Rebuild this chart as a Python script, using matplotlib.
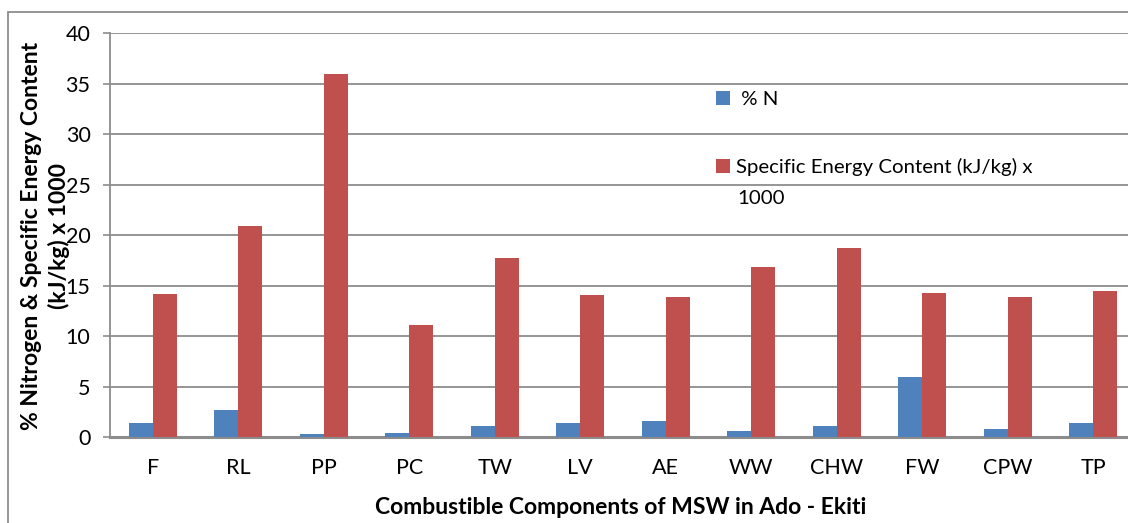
import numpy as np
import matplotlib
matplotlib.use("Agg")
import matplotlib.pyplot as plt
from matplotlib.patches import Rectangle

plt.rcParams['font.family'] = ['Lato', 'DejaVu Sans']

# data
components = ['F', 'RL', 'PP', 'PC', 'TW', 'LV', 'AE', 'WW', 'CHW', 'FW', 'CPW', 'TP']
nitrogen_pct = [1.36, 2.66, 0.33, 0.40, 1.10, 1.40, 1.56, 0.63, 1.10, 5.90, 0.83, 1.40]
energy_content = [14.2, 20.9, 35.9, 11.1, 17.7, 14.1, 13.9, 16.8, 18.7, 14.3, 13.9, 14.5]

blue = '#4F81BD'
red = '#C0504D'
grid_grey = '#8C8C8C'

fig = plt.figure(figsize=(11.28, 5.23), dpi=100)
ax = fig.add_axes([0.0975, 0.1644, 0.9025, 0.7725])

x = np.arange(len(components))
w = 0.28
ax.bar(x - w / 2, nitrogen_pct, width=w, color=blue, label=' % N', zorder=3)
ax.bar(x + w / 2, energy_content, width=w, color=red,
       label='Specific Energy Content (kJ/kg) x', zorder=3)

ax.set_xlim(-0.5, 11.406)
ax.set_ylim(0, 40)
ax.set_yticks(np.arange(0, 41, 5))
ax.set_xticks(x)
ax.set_xticklabels(components)
ax.tick_params(axis='x', length=0, pad=15, labelsize=15.5)
ax.tick_params(axis='y', length=5, width=1.2, color=grid_grey, pad=9, labelsize=15.5)

ax.yaxis.grid(True, color=grid_grey, linewidth=1.3, zorder=0)
ax.set_axisbelow(True)
for side in ['top', 'right']:
    ax.spines[side].set_visible(False)
ax.spines['left'].set_color(grid_grey)
ax.spines['left'].set_linewidth(1.3)
ax.spines['bottom'].set_color(grid_grey)
ax.spines['bottom'].set_linewidth(2.2)

# axis titles (second line sits over the tick labels, as in the original)
fig.text(0.0403, 0.548, '% Nitrogen & Specific Energy Content\n(kJ/kg) x 1000',
         rotation=90, ha='center', va='center', fontsize=16.5, fontweight='bold',
         linespacing=1.35, multialignment='center')
fig.text(0.5506, 0.029, 'Combustible Components of MSW in Ado - Ekiti',
         ha='center', va='center', fontsize=16.5, fontweight='bold')

# legend
ax.legend(loc='upper left', bbox_to_anchor=(0.6348, 0.8261), bbox_transform=fig.transFigure,
          frameon=False, fontsize=14.7, handlelength=0.7, handleheight=0.7,
          handletextpad=0.3, labelspacing=2.45, borderpad=0, borderaxespad=0)
fig.text(0.6534, 0.6214, '1000', ha='left', va='center', fontsize=14.7)

# outer chart border (cropped on right and bottom)
fig.patches.append(Rectangle((0.0071, -0.1), 1.2, 1.077, transform=fig.transFigure,
                             fill=False, edgecolor=grid_grey, linewidth=1.3))

fig.savefig('out.png', dpi=100)
